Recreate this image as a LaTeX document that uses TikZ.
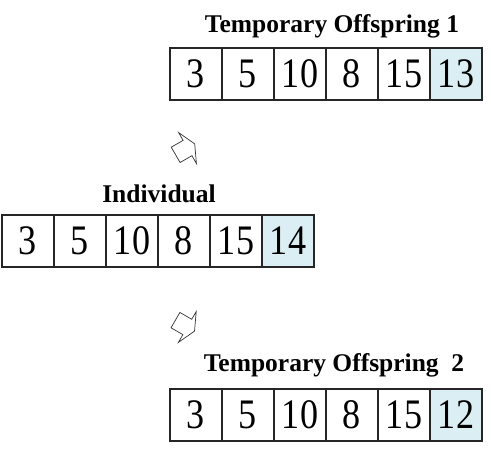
\documentclass[tikz,border=0pt]{standalone}
\usepackage{fontspec}
\setmainfont{Liberation Serif}
\newfontfamily\genefamily[FakeStretch=0.86]{Liberation Serif}
\usepackage{tikz}
\usetikzlibrary{shapes.arrows}
\definecolor{genefill}{HTML}{DAEEF3}
\newcommand{\genefont}{\genefamily\fontsize{42}{42}\selectfont}
\newcommand{\rowtitlefont}{\fontsize{25.5}{30}\selectfont\bfseries}
\tikzset{
  gene/.style={
    draw=black!85,
    rectangle,
    minimum width=52pt,
    minimum height=52pt,
    inner sep=0pt,
    outer sep=0pt,
    line width=1.2pt,
    fill=white,
    font=\genefont,
  },
  mutgene/.style={gene, fill=genefill},
  rowtitle/.style={anchor=base, inner sep=0pt, font=\rowtitlefont},
  blockarrow/.style={
    single arrow,
    draw=black!80,
    fill=white,
    line width=0.7pt,
    inner sep=8.5pt,
    minimum height=22pt,
    single arrow head extend=9pt,
    single arrow tip angle=130,
  },
}
\begin{document}
\begin{tikzpicture}[x=1pt,y=1pt]
  \useasboundingbox (0,0) rectangle (491,452);
  % temporary offspring 1
  \node[rowtitle] (titleP) at (332,419) {Temporary Offspring 1};
  \foreach \v [count=\j from 0] in {3,5,10,8,15} {
    \node[gene] (P\j) at (196+\j*52, 378) {\v};
  }
  \node[mutgene] (P5) at (196+5*52, 378) {13};
  % individual
  \node[rowtitle] (titleI) at (159,249) {Individual};
  \foreach \v [count=\j from 0] in {3,5,10,8,15} {
    \node[gene] (I\j) at (28+\j*52, 211) {\v};
  }
  \node[mutgene] (I5) at (28+5*52, 211) {14};
  % temporary offspring 2
  \node[rowtitle] (titleQ) at (334,80) {Temporary Offspring\ \ 2};
  \foreach \v [count=\j from 0] in {3,5,10,8,15} {
    \node[gene] (Q\j) at (196+\j*52, 37) {\v};
  }
  \node[mutgene] (Q5) at (196+5*52, 37) {12};
  % arrows
  \node[blockarrow, rotate=30] (upArrow) at (183.4,301.6) {};
  \node[blockarrow, rotate=-30] (downArrow) at (183.2,127.4) {};
\end{tikzpicture}
\end{document}
